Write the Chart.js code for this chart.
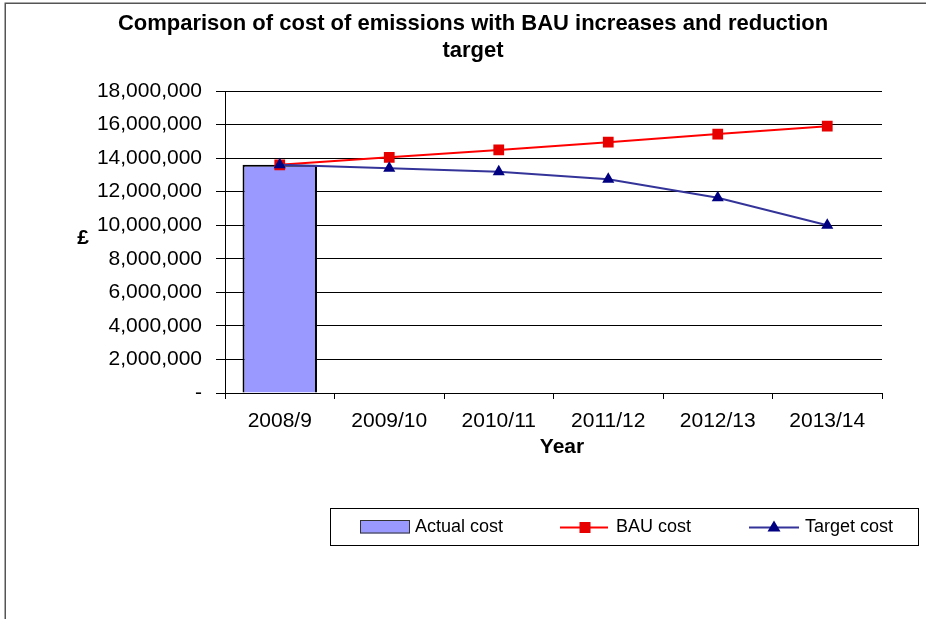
<!DOCTYPE html>
<html>
<head>
<meta charset="utf-8">
<script src="https://cdn.jsdelivr.net/npm/chart.js@4/dist/chart.umd.min.js"></script>
<style>
  html, body { margin: 0; padding: 0; background: #fff; }
  canvas { display: block; }
</style>
</head>
<body>
<canvas id="c" width="926" height="619"></canvas>
<script>
// Financial years on the category axis
const years = ['2008/9', '2009/10', '2010/11', '2011/12', '2012/13', '2013/14'];

// Actual cost is only known for the first year
const actualCost = [13600000, null, null, null, null, null];

// Business-as-usual projection
const bauCost = [13600000, 14050000, 14490000, 14950000, 15430000, 15900000];

// Reduction target path
const targetCost = [13600000, 13400000, 13180000, 12740000, 11640000, 10000000];

// Value axis ticks
const yTicks = [0, 2000000, 4000000, 6000000, 8000000, 10000000, 12000000, 14000000, 16000000, 18000000];

const titleLines = ['Comparison of cost of emissions with BAU increases and reduction', 'target'];
const yAxisTitle = '£';
const xAxisTitle = 'Year';

const FONT = '"Liberation Sans", Arial, sans-serif';

const COL_BAR = '#9999FF';
const COL_BAU = '#FF0000';
const COL_BAU_PT = '#E60000';
const COL_TGT = '#333399';
const COL_TGT_PT = '#000080';

// Frame, title, axis titles and legend box
const decorations = {
  id: 'decorations',
  beforeDraw(chart) {
    const ctx = chart.ctx;
    ctx.save();
    ctx.fillStyle = '#fff';
    ctx.fillRect(0, 0, chart.width, chart.height);
    ctx.strokeStyle = '#555';
    ctx.lineWidth = 1.5;
    ctx.strokeRect(5.25, 3.25, 1200, 1200);
    ctx.restore();
  },
  afterDraw(chart) {
    const ctx = chart.ctx;
    const area = chart.chartArea;
    ctx.save();
    ctx.fillStyle = '#000';
    ctx.textBaseline = 'middle';

    // chart title
    ctx.font = 'bold 22px ' + FONT;
    ctx.textAlign = 'center';
    ctx.fillText(titleLines[0], 473, 24);
    ctx.fillText(titleLines[1], 473, 51);

    // axis titles
    ctx.font = 'bold 21px ' + FONT;
    ctx.fillText(yAxisTitle, 83, 238);
    ctx.fillText(xAxisTitle, 562, 447);

    // legend
    const ly = 527.5;
    ctx.strokeStyle = '#000';
    ctx.lineWidth = 1;
    ctx.strokeRect(330.5, 508.5, 588, 37);

    ctx.fillStyle = COL_BAR;
    ctx.fillRect(360, 520.5, 50, 13);
    ctx.strokeStyle = '#333';
    ctx.strokeRect(360.5, 520.5, 49, 12.5);

    ctx.strokeStyle = COL_BAU;
    ctx.lineWidth = 2;
    ctx.beginPath(); ctx.moveTo(560, ly); ctx.lineTo(608, ly); ctx.stroke();
    ctx.fillStyle = COL_BAU_PT;
    ctx.fillRect(585 - 5.5, ly - 5.5, 11, 11);

    ctx.strokeStyle = COL_TGT;
    ctx.beginPath(); ctx.moveTo(749, ly); ctx.lineTo(799, ly); ctx.stroke();
    ctx.fillStyle = COL_TGT_PT;
    ctx.beginPath();
    ctx.moveTo(774, ly - 7); ctx.lineTo(780.5, ly + 4); ctx.lineTo(767.5, ly + 4);
    ctx.closePath(); ctx.fill();

    ctx.fillStyle = '#000';
    ctx.textAlign = 'left';
    ctx.font = '18px ' + FONT;
    ctx.fillText('Actual cost', 415, ly);
    ctx.fillText('BAU cost', 616, ly);
    ctx.fillText('Target cost', 805, ly);
    ctx.restore();
  }
};

new Chart(document.getElementById('c'), {
  data: {
    labels: years,
    datasets: [
      {
        type: 'line', label: 'Target cost', data: targetCost, order: 1,
        borderColor: COL_TGT, borderWidth: 2, tension: 0,
        pointStyle: 'triangle', pointRadius: 7, pointBorderWidth: 0,
        pointBackgroundColor: COL_TGT_PT, pointBorderColor: COL_TGT_PT
      },
      {
        type: 'line', label: 'BAU cost', data: bauCost, order: 2,
        borderColor: COL_BAU, borderWidth: 2, tension: 0,
        pointStyle: 'rect', pointRadius: 7.6, pointBorderWidth: 0,
        pointBackgroundColor: COL_BAU_PT, pointBorderColor: COL_BAU_PT
      },
      {
        type: 'bar', label: 'Actual cost', data: actualCost, order: 3,
        backgroundColor: COL_BAR, borderColor: '#000', borderWidth: 2,
        barPercentage: 0.68, categoryPercentage: 1
      }
    ]
  },
  options: {
    responsive: false,
    animation: false,
    devicePixelRatio: 1,
    layout: { padding: { left: 0, top: 91, right: 44, bottom: 159 } },
    plugins: {
      legend: { display: false },
      title: { display: false },
      tooltip: { enabled: false }
    },
    scales: {
      x: {
        type: 'category',
        offset: true,
        grid: { offset: true, drawOnChartArea: false, drawTicks: true, tickLength: 6, color: '#000', lineWidth: 1 },
        border: { display: true, color: '#000', width: 1 },
        ticks: { color: '#000', font: { family: FONT, size: 21 }, padding: 10, maxRotation: 0, autoSkip: false },
        afterFit(scale) { scale.height = 67; }
      },
      y: {
        min: 0, max: 18000000,
        afterBuildTicks(scale) { scale.ticks = yTicks.map(v => ({ value: v })); },
        grid: { color: '#000', lineWidth: 1, drawTicks: true, tickLength: 9 },
        border: { display: true, color: '#000', width: 1 },
        ticks: {
          color: '#000', font: { family: FONT, size: 21 }, padding: 14,
          callback: v => v === 0 ? '-' : v.toLocaleString('en-US')
        },
        afterFit(scale) { scale.width = 225; }
      }
    }
  },
  plugins: [decorations]
});
</script>
</body>
</html>
